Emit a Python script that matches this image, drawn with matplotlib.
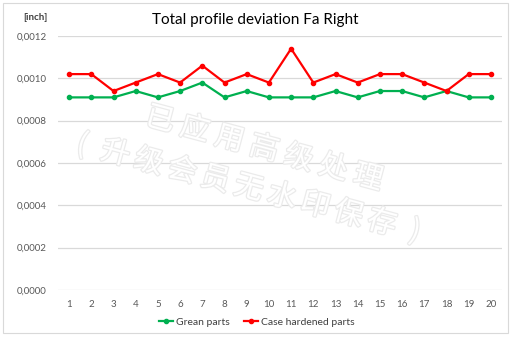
import matplotlib.pyplot as plt
import matplotlib.patheffects as pe
from matplotlib.patches import Rectangle
from matplotlib.ticker import FuncFormatter

# data (inch)
samples = list(range(1, 21))
green_parts = [0.00091, 0.00091, 0.00091, 0.00094, 0.00091, 0.00094, 0.00098, 0.00091, 0.00094, 0.00091,
               0.00091, 0.00091, 0.00094, 0.00091, 0.00094, 0.00094, 0.00091, 0.00094, 0.00091, 0.00091]
hardened_parts = [0.00102, 0.00102, 0.00094, 0.00098, 0.00102, 0.00098, 0.00106, 0.00098, 0.00102, 0.00098,
                  0.00114, 0.00098, 0.00102, 0.00098, 0.00102, 0.00102, 0.00098, 0.00094, 0.00102, 0.00102]
y_ticks = [0.0, 0.0002, 0.0004, 0.0006, 0.0008, 0.0010, 0.0012]

plt.rcParams['font.family'] = ['Lato', 'DejaVu Sans']

fig = plt.figure(figsize=(5.13, 3.39), dpi=100)
W, H = 513, 339
ax = fig.add_axes([58 / W, 1 - 290 / H, 444 / W, 254 / H])

# outer chart frame
fig.patches.append(Rectangle((3 / W, 1 - 333 / H), 505 / W, 330 / H, transform=fig.transFigure,
                             fill=False, edgecolor='#d9d9d9', linewidth=0.8))

ax.plot(samples, green_parts, color='#00b050', lw=1.6, marker='o', ms=3, label='Grean parts', zorder=3)
ax.plot(samples, hardened_parts, color='#ff0000', lw=1.6, marker='o', ms=3, label='Case hardened parts', zorder=3)

ax.set_xlim(0.5, 20.5)
ax.set_ylim(0, 0.0012)
ax.set_yticks(y_ticks)
ax.yaxis.set_major_formatter(FuncFormatter(lambda v, p: f"{v:.4f}".replace('.', ',')))
ax.set_xticks(samples)
ax.grid(axis='y', color='#d9d9d9', lw=0.9)
ax.set_axisbelow(True)
for s in ax.spines.values():
    s.set_visible(False)
ax.tick_params(length=0, labelsize=7, colors='#595959')
ax.tick_params(axis='x', pad=7)
ax.tick_params(axis='y', pad=8)

fig.text(255 / W, 1 - 20 / H, 'Total profile deviation Fa Right', ha='center', va='center', fontsize=11, color='#000000')
fig.text(35 / W, 1 - 18 / H, '[inch]', ha='center', va='center', fontsize=7, fontweight='bold', color='#404040')

fig.legend(loc='center', bbox_to_anchor=(257 / W, 1 - 322 / H), ncol=2, frameon=False, fontsize=7.5,
           handlelength=1.3, columnspacing=1.4, handletextpad=0.3, labelcolor='#404040')

# overlay stamp, one glyph at a time along a slanted baseline
stamp = dict(ha='center', va='center', fontsize=21, color='white',
             family=['Noto Sans CJK SC', 'DejaVu Sans'], zorder=5,
             path_effects=[pe.withStroke(linewidth=1.8, foreground='#ebebeb')])


def stamp_line(chars, start, end, rot):
    n = len(chars)
    for i, ch in enumerate(chars):
        x = start[0] + (end[0] - start[0]) * i / (n - 1)
        y = start[1] + (end[1] - start[1]) * i / (n - 1)
        fig.text(x / W, 1 - y / H, ch, rotation=rot, **stamp)


stamp_line('已应用高级处理', (160, 120), (368, 178), -15)
stamp_line('(升级会员无水印保存)', (82, 145), (415, 232), -15)

fig.savefig('out.png', dpi=100)
